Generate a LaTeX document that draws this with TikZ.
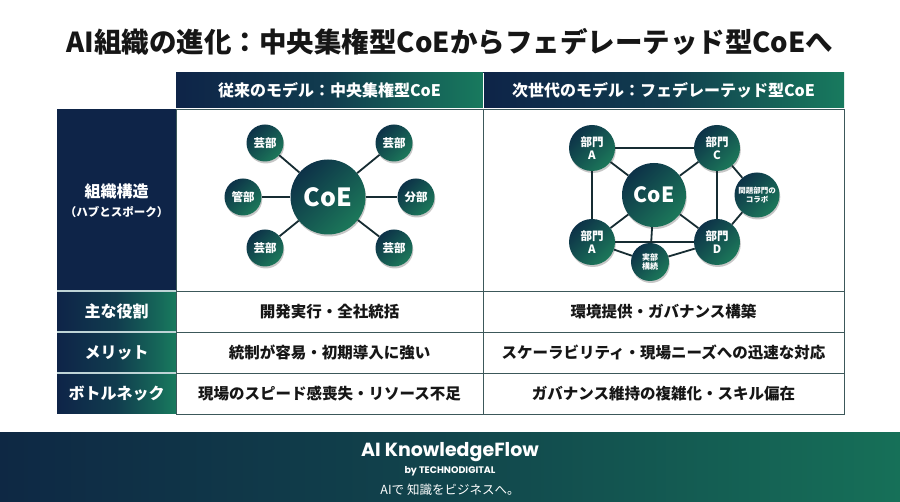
\documentclass[tikz,border=0pt]{standalone}
\usepackage{fontspec}
\setmainfont{Noto Sans CJK JP}
\newfontfamily\brandfont{Poppins}
\usetikzlibrary{shadows}
\definecolor{navy}{RGB}{14,36,72}
\definecolor{tgreen}{RGB}{24,122,94}
\definecolor{cdark}{RGB}{13,50,72}
\definecolor{cgreen}{RGB}{28,120,90}
\definecolor{edgecol}{RGB}{22,44,50}
\definecolor{gridcol}{RGB}{60,88,90}
\definecolor{sepcol}{RGB}{190,212,214}
\definecolor{ink}{RGB}{22,22,22}
\definecolor{fnavy}{RGB}{14,40,68}
\definecolor{fgreen}{RGB}{22,112,88}
\tikzset{
  hub/.style={circle, inner sep=0pt, minimum size=#1, top color=cdark, bottom color=cgreen, shading angle=45,
    text=white, align=center, drop shadow={shadow xshift=0.8pt, shadow yshift=-2pt, opacity=0.22, fill=black}},
  conn/.style={draw=edgecol, line width=1.8pt},
  hdrtext/.style={text=white, font=\fontsize{16}{18}\selectfont\bfseries, inner sep=0pt},
  lbltext/.style={text=white, font=\fontsize{16}{18}\selectfont\bfseries, inner sep=0pt},
  bodytext/.style={text=ink, font=\fontsize{15.5}{18}\selectfont\bfseries, inner sep=0pt},
  gradcell/.style={left color=navy, right color=tgreen, middle color=navy!72!tgreen},
}
\begin{document}
\begin{tikzpicture}[x=1pt,y=-1pt]
\useasboundingbox (0,0) rectangle (900,502);
\fill[white] (0,0) rectangle (900,502);
% title
\node[text=ink, font=\fontsize{27.5}{30}\selectfont\bfseries, inner sep=0pt] (title) at (450,42) {AI組織の進化：中央集権型CoEからフェデレーテッド型CoEへ};
% header cells
\shade[gradcell] (176,73) rectangle (483,108);
\shade[gradcell] (483,73) rectangle (844,108);
\draw[white, line width=1pt] (483,73) -- (483,108);
\node[hdrtext] (h1) at (329.5,90.5) {従来のモデル：中央集権型CoE};
\node[hdrtext] (h2) at (663.5,90.5) {次世代のモデル：フェデレーテッド型CoE};
% left label column
\fill[navy] (57,109) rectangle (176,291);
\shade[gradcell] (57,291) rectangle (176,332);
\shade[gradcell] (57,332) rectangle (176,373);
\shade[gradcell] (57,373) rectangle (176,414);
\draw[sepcol, line width=1.2pt] (57,291) -- (176,291);
\draw[sepcol, line width=1.2pt] (57,332) -- (176,332);
\draw[sepcol, line width=1.2pt] (57,373) -- (176,373);
% body grid
\draw[gridcol, line width=0.8pt] (176,109) rectangle (844,414);
\draw[gridcol, line width=0.8pt] (483,109) -- (483,414);
\draw[gridcol, line width=0.8pt] (176,291) -- (844,291);
\draw[gridcol, line width=0.8pt] (176,332) -- (844,332);
\draw[gridcol, line width=0.8pt] (176,373) -- (844,373);
% row labels
\node[lbltext] (l1a) at (116.5,191) {組織構造};
\node[text=white, font=\fontsize{11.5}{13}\selectfont\bfseries, inner sep=0pt] (l1b) at (116.5,212) {（ハブとスポーク）};
\node[lbltext] (l2) at (116.5,311.5) {主な役割};
\node[lbltext] (l3) at (116.5,352.5) {メリット};
\node[lbltext] (l4) at (116.5,393.5) {ボトルネック};
% body texts
\node[bodytext] (b21) at (329.5,311.5) {開発実行・全社統括};
\node[bodytext] (b22) at (663.5,311.5) {環境提供・ガバナンス構築};
\node[bodytext] (b31) at (329.5,352.5) {統制が容易・初期導入に強い};
\node[bodytext] (b32) at (663.5,352.5) {スケーラビリティ・現場ニーズへの迅速な対応};
\node[bodytext] (b41) at (329.5,393.5) {現場のスピード感喪失・リソース不足};
\node[bodytext] (b42) at (663.5,393.5) {ガバナンス維持の複雑化・スキル偏在};
% left diagram
\node[hub=75pt, font=\fontsize{25}{27}\selectfont\bfseries] (coe1) at (328,197) {CoE};
\node[hub=37pt, font=\fontsize{11.5}{12}\selectfont\bfseries] (p1) at (265,143) {芸部};
\node[hub=37pt, font=\fontsize{11.5}{12}\selectfont\bfseries] (p2) at (394,143) {芸部};
\node[hub=37pt, font=\fontsize{11.5}{12}\selectfont\bfseries] (p3) at (243,197) {管部};
\node[hub=37pt, font=\fontsize{11.5}{12}\selectfont\bfseries] (p4) at (416,197) {分部};
\node[hub=37pt, font=\fontsize{11.5}{12}\selectfont\bfseries] (p5) at (265,248) {芸部};
\node[hub=37pt, font=\fontsize{11.5}{12}\selectfont\bfseries] (p6) at (394,248) {芸部};
\foreach \n in {p1,p2,p3,p4,p5,p6} \draw[conn] (coe1) -- (\n);
% right diagram
\node[hub=64pt, font=\fontsize{21}{23}\selectfont\bfseries] (coe2) at (654,195) {CoE};
\node[hub=46pt, font=\fontsize{11.5}{13}\selectfont\bfseries] (da) at (592,148) {部門\\A};
\node[hub=46pt, font=\fontsize{11.5}{13}\selectfont\bfseries] (dc) at (717,148) {部門\\C};
\node[hub=46pt, font=\fontsize{11.5}{13}\selectfont\bfseries] (db) at (592,242) {部門\\A};
\node[hub=46pt, font=\fontsize{11.5}{13}\selectfont\bfseries] (dd) at (717,242) {部門\\D};
\node[hub=45pt, font=\fontsize{7.5}{9}\selectfont\bfseries] (col) at (757,195) {間題部門の\\コラボ};
\node[hub=38pt, font=\fontsize{8}{9.5}\selectfont\bfseries] (sm) at (650,262) {実部\\構続};
\draw[conn] (da) -- (dc);
\draw[conn] (da) -- (db);
\draw[conn] (dc) -- (dd);
\draw[conn] (db) -- (dd);
\draw[conn] (coe2) -- (da);
\draw[conn] (coe2) -- (dc);
\draw[conn] (coe2) -- (db);
\draw[conn] (coe2) -- (dd);
\draw[conn] (coe2) -- (sm);
\draw[conn] (dc) -- (col);
\draw[conn] (col) -- (dd);
\draw[conn] (db) -- (sm);
\draw[conn] (sm) -- (dd);
% footer
\shade[left color=fnavy, right color=fgreen, middle color=fnavy!60!fgreen] (0,433) rectangle (900,502);
\node[text=white, font=\brandfont\fontsize{19}{21}\selectfont\bfseries, inner sep=0pt] (brand) at (450,452) {AI KnowledgeFlow};
\node[text=white, font=\brandfont\fontsize{9.5}{11}\selectfont\bfseries, inner sep=0pt] (by) at (450,471) {by TECHNODIGITAL};
\node[text=white, font=\fontsize{12.5}{14}\selectfont, inner sep=0pt] (tag) at (450,489.5) {AIで 知識をビジネスへ。};
\end{tikzpicture}
\end{document}
